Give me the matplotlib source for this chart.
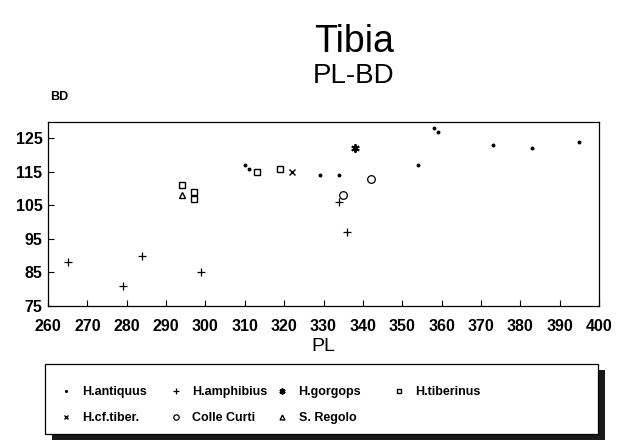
import matplotlib
matplotlib.use("Agg")
import matplotlib.pyplot as plt
from matplotlib.patches import Rectangle
from matplotlib import font_manager

# ---- data (PL, BD) ----
antiquus_pl = [310, 311, 329, 334, 354, 358, 359, 373, 383, 395]
antiquus_bd = [117, 116, 114, 114, 117, 128, 127, 123, 122, 124]
amphibius_pl = [265, 279, 284, 299, 334, 336]
amphibius_bd = [88, 81, 90, 85, 106, 97]
gorgops_pl = [338]
gorgops_bd = [122]
tiberinus_pl = [294, 297, 297, 313, 319]
tiberinus_bd = [111, 109, 107, 115, 116]
cftiber_pl = [322]
cftiber_bd = [115]
collecurti_pl = [335, 342]
collecurti_bd = [108, 113]
sregolo_pl = [294]
sregolo_bd = [108]

labels = ["H.antiquus", "H.amphibius", "H.gorgops", "H.tiberinus",
          "H.cf.tiber.", "Colle Curti", "S. Regolo"]
xticks = list(range(260, 401, 10))
yticks = [75, 85, 95, 105, 115, 125]

names = {f.name for f in font_manager.fontManager.ttflist}
narrow = "Liberation Sans Narrow" if "Liberation Sans Narrow" in names else "Liberation Sans"
plt.rcParams['font.family'] = ['Liberation Sans', 'DejaVu Sans']

fig = plt.figure(figsize=(6.3, 4.4), dpi=100)
ax = fig.add_axes([0.0762, 0.3045, 0.8746, 0.419])

k = dict(color='black', linestyle='none')
h1, = ax.plot(antiquus_pl, antiquus_bd, marker='o', markersize=1.8, **k)
h2, = ax.plot(amphibius_pl, amphibius_bd, marker='+', markersize=6, markeredgewidth=0.9, **k)
h3, = ax.plot(gorgops_pl, gorgops_bd, marker=(6, 2, 0), markersize=6, markeredgewidth=1.4, **k)
h4, = ax.plot(tiberinus_pl, tiberinus_bd, marker='s', markersize=4.5, markerfacecolor='white', markeredgewidth=1.0, **k)
h5, = ax.plot(cftiber_pl, cftiber_bd, marker='x', markersize=4.5, markeredgewidth=1.0, **k)
h6, = ax.plot(collecurti_pl, collecurti_bd, marker='o', markersize=5.5, markerfacecolor='white', markeredgewidth=0.9, **k)
h7, = ax.plot(sregolo_pl, sregolo_bd, marker='^', markersize=5, markerfacecolor='white', markeredgewidth=1.0, **k)

ax.set_xlim(260, 400)
ax.set_ylim(75, 130)
ax.set_xticks(xticks)
ax.set_yticks(yticks)
ax.tick_params(direction='in', length=4, width=0.8, labelsize=11.5)
ax.tick_params(axis='x', pad=9)
ax.tick_params(axis='y', pad=4)
for lab in ax.get_xticklabels() + ax.get_yticklabels():
    lab.set_fontweight('bold')
for s in ax.spines.values():
    s.set_linewidth(0.9)

ax.set_xlabel("PL", fontsize=14, labelpad=3)
fig.text(0.079, 0.772, "BD", fontsize=9, fontweight='bold', ha='left', va='baseline')

fig.text(0.562, 0.882, "Tibia", fontsize=27, family=[narrow, 'DejaVu Sans'], ha='center', va='baseline')
fig.text(0.562, 0.812, "PL-BD", fontsize=20, family=[narrow, 'DejaVu Sans'], ha='center', va='baseline')

# legend frame with hard shadow
lx, ly, lw, lh = 0.0714, 0.0136, 0.878, 0.159
fig.patches.append(Rectangle((lx + 0.011, ly - 0.0136), lw, lh, transform=fig.transFigure,
                             facecolor='#1a1a1a', edgecolor='none', zorder=0))
fig.patches.append(Rectangle((lx, ly), lw, lh, transform=fig.transFigure,
                             facecolor='white', edgecolor='black', linewidth=0.9, zorder=1))

handles = [h1, h2, h3, h4, h5, h6, h7]
col_x = [0.0948, 0.2694, 0.4377, 0.6234]
columns = [[0, 4], [1, 5], [2, 6], [3]]
for cx, idx in zip(col_x, columns):
    lg = fig.legend([handles[i] for i in idx], [labels[i] for i in idx],
                    loc='upper left', bbox_to_anchor=(cx, 0.1216), frameon=False,
                    borderaxespad=0, borderpad=0, handlelength=1.0, handletextpad=0.82,
                    labelspacing=1.1, markerscale=0.7,
                    prop={'size': 9, 'weight': 'bold'})
    lg.set_zorder(3)

fig.savefig("out.png", dpi=100)
